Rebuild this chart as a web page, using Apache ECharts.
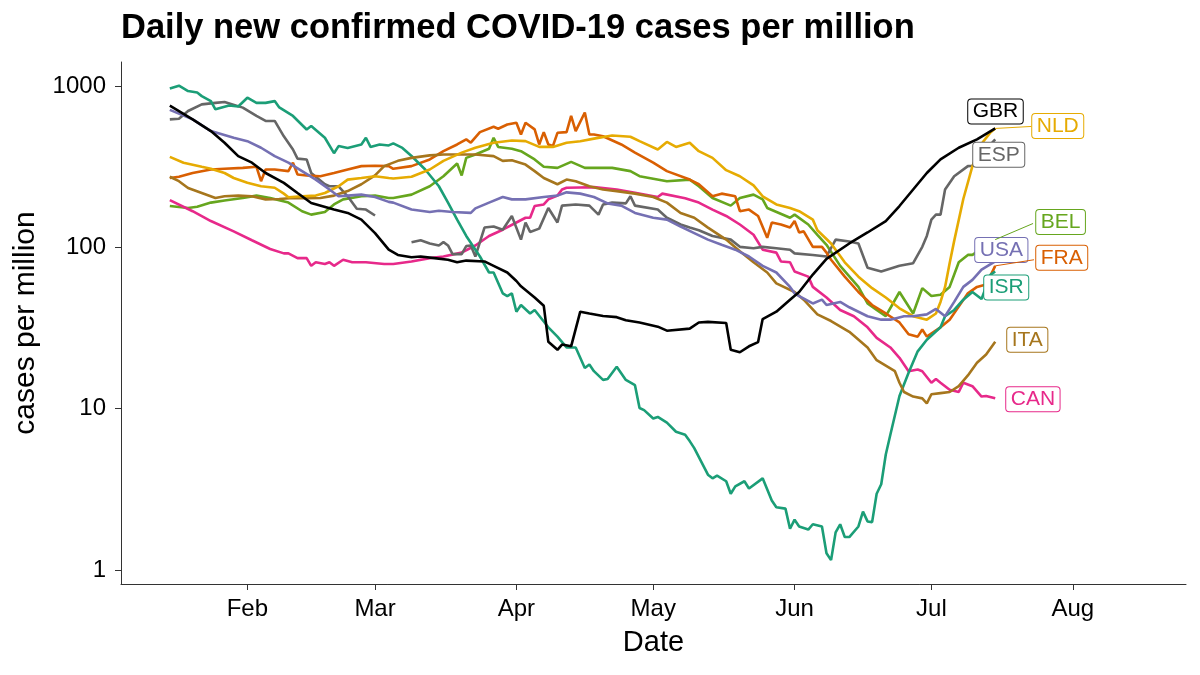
<!DOCTYPE html>
<html><head><meta charset="utf-8">
<script src="https://cdn.jsdelivr.net/npm/echarts@6/dist/echarts.min.js"></script>
<style>html,body{margin:0;padding:0;background:#fff}#c{width:1200px;height:675px}</style>
</head><body><div id="c"></div>
<script>
const YEAR = '2021';
const MONTH_TICKS = ['02-01','03-01','04-01','05-01','06-01','07-01','08-01'];
const MONTH_LABELS = ['Feb','Mar','Apr','May','Jun','Jul','Aug'];
const Y_TICKS = [1, 10, 100, 1000];

const BEL = [['01-15',181],['01-19',176],['01-21',179],['01-24',190],['01-27',196],['01-31',203],['02-03',210],['02-06',203],['02-10',190],['02-13',168],['02-15',160],['02-18',166],['02-20',185],['02-22',199],['02-26',208],['03-01',210],['03-04',203],['03-05',203],['03-09',213],['03-13',240],['03-16',277],['03-19',332],['03-20',280],['03-21',360],['03-23',378],['03-26',410],['03-27',480],['03-28',421],['03-31',410],['04-02',396],['04-05',352],['04-07',317],['04-10',312],['04-13',340],['04-16',312],['04-20',312],['04-22',312],['04-26',298],['04-28',277],['05-04',258],['05-09',264],['05-11',240],['05-14',203],['05-18',182],['05-20',203],['05-23',213],['05-25',199],['05-26',176],['05-31',153],['06-01',160],['06-04',139],['06-06',120],['06-08',104],['06-11',77],['06-15',57],['06-17',45],['06-19',41],['06-21',37.5],['06-24',53],['06-27',39],['06-29',56],['07-01',50],['07-03',51],['07-05',57],['07-07',81],['07-09',90],['07-10',90],['07-15',112]];
const CAN = [['01-15',197],['01-20',168],['01-24',146],['01-29',126],['02-02',111],['02-06',98],['02-09',92],['02-10',92],['02-12',86],['02-14',86],['02-15',77],['02-16',81],['02-18',79],['02-19',81],['02-20',77],['02-22',84],['02-24',81],['02-27',81],['03-03',79],['03-05',79],['03-09',82],['03-13',86],['03-16',88],['03-20',93],['03-23',103],['03-26',118],['03-29',129],['04-01',143],['04-03',153],['04-04',153],['04-05',181],['04-07',185],['04-08',199],['04-10',210],['04-11',229],['04-12',235],['04-15',236],['04-18',237],['04-23',229],['04-27',219],['05-02',206],['05-03',216],['05-08',202],['05-11',190],['05-14',172],['05-17',157],['05-20',139],['05-23',120],['05-25',97],['05-28',93],['05-29',82],['05-31',81],['06-01',71],['06-04',66],['06-05',57],['06-08',49],['06-11',41],['06-14',37.5],['06-17',32],['06-19',27.5],['06-22',24],['06-24',20.7],['06-26',17.1],['06-28',17.5],['06-29',17.1],['07-01',14.5],['07-02',15.3],['07-03',14.5],['07-05',13.1],['07-07',12.7],['07-08',14.5],['07-10',13.8],['07-12',11.9],['07-13',12.0],['07-15',11.6]];
const ESP = [['01-15',624],['01-17',630],['01-19',703],['01-22',773],['01-25',790],['01-27',800],['01-31',738],['02-03',655],['02-05',610],['02-07',610],['02-09',490],['02-11',406],['02-12',356],['02-14',352],['02-15',290],['02-18',247],['02-19',240],['02-21',240],['02-23',208],['02-25',174],['02-27',172],['03-01',158],['03-05',null],['03-09',108],['03-11',111],['03-13',106],['03-15',103],['03-16',108],['03-17',103],['03-18',91],['03-20',91],['03-21',102],['03-22',103],['03-23',88],['03-25',133],['03-27',135],['03-29',129],['03-31',157],['04-02',112],['04-03',143],['04-04',125],['04-06',131],['04-08',176],['04-10',143],['04-11',182],['04-14',185],['04-17',182],['04-19',160],['04-20',185],['04-22',190],['04-25',188],['04-26',208],['04-27',182],['05-02',172],['05-04',153],['05-07',139],['05-09',133],['05-11',128],['05-14',118],['05-18',112],['05-20',101],['05-23',99],['05-25',101],['05-28',99],['05-31',97],['06-01',92],['06-05',90],['06-08',88],['06-10',112],['06-13',109],['06-15',106],['06-17',75],['06-20',71],['06-24',77],['06-27',80],['06-29',101],['06-30',118],['07-01',149],['07-02',160],['07-03',160],['07-04',229],['07-06',277],['07-09',320],['07-10',322],['07-12',380],['07-15',469]];
const FRA = [['01-15',270],['01-17',275],['01-20',290],['01-24',305],['01-27',308],['01-31',312],['02-03',317],['02-04',258],['02-05',305],['02-07',305],['02-10',298],['02-11',336],['02-12',284],['02-14',280],['02-17',277],['02-20',290],['02-23',305],['02-26',320],['03-01',322],['03-04',320],['03-05',308],['03-09',320],['03-13',352],['03-16',396],['03-19',436],['03-21',469],['03-22',447],['03-24',520],['03-27',562],['03-28',546],['03-30',580],['04-01',595],['04-02',503],['04-03',595],['04-05',541],['04-06',436],['04-07',520],['04-08',436],['04-09',426],['04-10',515],['04-12',520],['04-13',655],['04-14',528],['04-16',688],['04-17',503],['04-18',503],['04-20',490],['04-24',436],['04-27',388],['05-01',336],['05-04',298],['05-09',264],['05-11',247],['05-14',208],['05-16',216],['05-19',208],['05-20',168],['05-22',172],['05-24',157],['05-26',115],['05-27',143],['05-29',139],['05-31',133],['06-01',146],['06-02',124],['06-03',126],['06-05',101],['06-07',101],['06-08',93],['06-09',84],['06-12',66],['06-15',53],['06-18',44],['06-21',39],['06-24',34.3],['06-26',29],['06-28',28],['06-29',31],['06-30',28],['07-03',32],['07-05',35.7],['07-07',43],['07-09',52],['07-11',57],['07-13',59],['07-15',77]];
const GBR = [['01-15',760],['01-20',624],['01-24',528],['01-27',447],['01-30',369],['02-02',336],['02-05',290],['02-09',252],['02-12',218],['02-15',189],['02-20',172],['02-23',164],['02-26',149],['03-01',123],['03-04',97],['03-06',90],['03-09',87],['03-11',88],['03-14',86],['03-17',84],['03-19',81],['03-21',83],['03-25',82],['03-27',77],['03-30',70],['04-01',62],['04-02',57.5],['04-05',49],['04-07',43.5],['04-08',26],['04-10',23.2],['04-11',25],['04-13',24.4],['04-15',40],['04-17',39],['04-20',37.6],['04-23',37],['04-25',35.4],['04-28',34.3],['05-02',32.3],['05-04',30.5],['05-09',31.4],['05-11',34.3],['05-13',34.6],['05-17',34],['05-18',23.2],['05-20',22.4],['05-22',24.4],['05-24',25.9],['05-25',36],['05-28',40],['05-31',47.5],['06-02',53],['06-05',68],['06-08',85],['06-13',106],['06-17',124],['06-21',146],['06-24',181],['06-27',229],['06-30',290],['07-03',352],['07-07',416],['07-11',469],['07-15',548]];
const ISR = [['01-15',970],['01-17',1010],['01-19',935],['01-21',915],['01-22',870],['01-24',810],['01-25',720],['01-28',760],['01-30',750],['02-01',850],['02-03',790],['02-05',790],['02-07',810],['02-08',740],['02-11',655],['02-14',540],['02-15',567],['02-18',480],['02-20',385],['02-21',426],['02-23',415],['02-26',436],['02-27',480],['02-28',421],['03-02',436],['03-04',430],['03-05',443],['03-07',415],['03-09',370],['03-12',305],['03-15',240],['03-17',190],['03-19',149],['03-21',118],['03-24',88],['03-26',70],['03-27',70],['03-29',52],['03-30',50],['03-31',52],['04-01',40],['04-02',44],['04-04',39],['04-05',41],['04-08',32],['04-10',28],['04-12',24],['04-14',24],['04-16',17.9],['04-17',18.8],['04-18',17.1],['04-20',15.1],['04-21',15.3],['04-23',18.2],['04-25',15.1],['04-27',14.0],['04-28',10.1],['04-29',9.8],['05-01',8.7],['05-02',8.9],['05-04',8.2],['05-06',7.2],['05-08',6.9],['05-09',6.3],['05-10',5.7],['05-13',3.9],['05-14',3.7],['05-15',3.85],['05-17',3.55],['05-18',2.97],['05-19',3.3],['05-21',3.55],['05-22',3.2],['05-25',3.7],['05-27',2.7],['05-28',2.45],['05-30',2.4],['05-31',1.8],['06-01',2.05],['06-02',1.86],['06-04',1.78],['06-05',1.92],['06-07',1.86],['06-08',1.27],['06-09',1.15],['06-10',1.71],['06-11',1.92],['06-12',1.6],['06-13',1.6],['06-15',1.86],['06-16',2.3],['06-17',2.0],['06-18',1.98],['06-19',2.97],['06-20',3.4],['06-21',5.2],['06-22',6.9],['06-24',12],['06-26',16.7],['06-28',22.7],['06-30',26.8],['07-03',32],['07-04',37.5],['07-06',41],['07-08',47.5],['07-10',53],['07-12',48],['07-14',68],['07-15',71]];
const ITA = [['01-15',275],['01-17',258],['01-19',234],['01-22',218],['01-25',203],['01-27',208],['01-30',210],['02-02',208],['02-05',199],['02-08',200],['02-11',203],['02-14',202],['02-17',203],['02-20',210],['02-23',224],['02-26',247],['03-01',280],['03-03',320],['03-06',345],['03-09',360],['03-13',373],['03-16',378],['03-20',378],['03-23',378],['03-27',369],['03-29',345],['03-31',348],['04-03',327],['04-05',298],['04-07',270],['04-10',247],['04-12',264],['04-14',258],['04-17',240],['04-20',229],['04-23',224],['04-27',216],['05-01',206],['05-04',190],['05-07',164],['05-10',153],['05-13',133],['05-17',112],['05-20',95],['05-23',81],['05-26',70],['05-28',60],['06-01',53],['06-03',47.5],['06-06',38.5],['06-09',35],['06-13',30],['06-17',24],['06-19',20],['06-23',17.1],['06-24',14.5],['06-25',12.7],['06-27',11.9],['06-29',11.6],['06-30',10.8],['07-01',12.3],['07-03',12.5],['07-05',12.7],['07-07',13.8],['07-09',16.1],['07-11',19.3],['07-13',21.7],['07-15',26]];
const NLD = [['01-15',365],['01-18',336],['01-22',317],['01-24',308],['01-27',290],['01-29',270],['02-01',252],['02-04',240],['02-07',235],['02-09',216],['02-10',205],['02-13',208],['02-16',210],['02-18',218],['02-21',240],['02-23',264],['02-26',270],['03-01',277],['03-04',270],['03-05',268],['03-09',275],['03-13',305],['03-16',345],['03-20',388],['03-23',416],['03-27',447],['03-31',461],['04-03',457],['04-06',421],['04-09',421],['04-12',447],['04-15',457],['04-18',474],['04-22',496],['04-26',487],['04-28',457],['05-02',406],['05-04',452],['05-06',421],['05-09',447],['05-11',396],['05-14',360],['05-17',302],['05-20',277],['05-23',243],['05-25',208],['05-28',185],['05-31',176],['06-02',168],['06-05',149],['06-06',128],['06-09',106],['06-12',81],['06-15',66],['06-18',56],['06-21',49],['06-24',42],['06-27',37.5],['06-30',35.7],['07-02',39],['07-03',46],['07-04',57],['07-05',80],['07-06',110],['07-08',200],['07-10',320],['07-12',440],['07-14',520],['07-15',548]];
const USA = [['01-15',715],['01-20',624],['01-24',528],['01-29',480],['02-01',457],['02-04',416],['02-07',369],['02-10',336],['02-13',298],['02-16',264],['02-19',229],['02-21',208],['02-23',210],['02-26',213],['03-01',206],['03-04',192],['03-05',190],['03-09',172],['03-13',166],['03-15',169],['03-18',166],['03-22',164],['03-23',175],['03-26',190],['03-29',206],['03-31',199],['04-03',199],['04-07',206],['04-10',210],['04-12',220],['04-15',216],['04-18',206],['04-21',188],['04-24',182],['04-27',164],['05-01',153],['05-04',149],['05-07',135],['05-10',123],['05-13',112],['05-16',104],['05-19',97],['05-22',88],['05-25',77],['05-28',70],['05-31',57],['06-01',52],['06-02',50],['06-05',45],['06-07',47.5],['06-08',44],['06-11',46],['06-13',42.6],['06-17',37.5],['06-20',35.7],['06-22',35.7],['06-25',37.5],['06-27',37.5],['06-30',38.5],['07-02',41.6],['07-04',37.5],['07-06',46],['07-08',57],['07-10',63],['07-12',73],['07-15',82]];

const SERIES_DATA = {BEL, CAN, ESP, FRA, ISR, ITA, NLD, USA, GBR};

// styling (kept apart from the data)
const COLORS = {BEL:'#66A61E', CAN:'#E7298A', ESP:'#666666', FRA:'#D95F02', ISR:'#1B9E77', ITA:'#A6761D', NLD:'#E6AB02', USA:'#7570B3', GBR:'#000000'};
const LABEL_OFFSETS = {GBR:[-27,-17], NLD:[37,-2.5], ESP:[-22,15.5], BEL:[41,-17.5], USA:[-20,-11.5], FRA:[41,-8], ISR:[-11,16], ITA:[12,-2], CAN:[11,1]};
const LEADER_TARGETS = {NLD:['07-22 22:00',564], BEL:['07-23 07:00',141], FRA:['07-23 12:00',84]};

const FONT = "'Liberation Sans', Arial, Helvetica, sans-serif";
const t = s => +echarts.time.parse(YEAR + '-' + s);
const tickTimes = MONTH_TICKS.map(t);

const series = Object.keys(SERIES_DATA).map(name => {
  const arr = SERIES_DATA[name];
  const col = COLORS[name];
  const last = arr[arr.length - 1];
  const s = {
    name, type: 'line', showSymbol: false, symbol: 'none', smooth: false,
    connectNulls: false, clip: true,
    data: arr.map(p => [t(p[0]), p[1] === null ? '-' : p[1]]),
    lineStyle: {color: col, width: 2.6},
    itemStyle: {color: col},
    emphasis: {disabled: true},
    endLabel: {
      show: true, formatter: name, color: col, fontSize: 21, fontFamily: FONT,
      backgroundColor: '#fff', borderColor: col, borderWidth: 1, borderRadius: 3,
      padding: [2, 4.5, 1, 4.5], distance: 0, offset: LABEL_OFFSETS[name],
      align: 'left', verticalAlign: 'middle'
    }
  };
  if (LEADER_TARGETS[name]) {
    const tg = LEADER_TARGETS[name];
    s.markLine = {
      silent: true, symbol: ['none', 'none'], animation: false,
      label: {show: false}, emphasis: {disabled: true},
      lineStyle: {color: col, width: 1, type: 'solid'},
      data: [[{coord: [t(last[0]), last[1]]}, {coord: [t(tg[0]), tg[1]]}]]
    };
  }
  return s;
});

const chart = echarts.init(document.getElementById('c'), null, {renderer: 'canvas'});
chart.setOption({
  animation: false,
  backgroundColor: '#fff',
  textStyle: {fontFamily: FONT},
  title: {
    text: 'Daily new confirmed COVID-19 cases per million',
    left: 121, top: 11, padding: 0,
    textStyle: {fontSize: 34.5, fontWeight: 'bold', color: '#000', fontFamily: FONT}
  },
  grid: {left: 121, right: 14, top: 62, bottom: 91, containLabel: false},
  xAxis: {
    type: 'value', scale: true,
    min: t('01-04 07:00'), max: t('08-25 20:00'),
    name: 'Date', nameLocation: 'middle', nameGap: 44,
    nameTextStyle: {fontSize: 29, color: '#000', fontFamily: FONT},
    axisLine: {show: true, lineStyle: {color: '#333', width: 1}},
    axisTick: {show: true, length: 6, lineStyle: {color: '#333', width: 1}, customValues: tickTimes},
    axisLabel: {customValues: tickTimes, fontSize: 24, color: '#000', margin: 13, fontFamily: FONT,
      showMinLabel: true, showMaxLabel: true,
      formatter: v => { const i = tickTimes.indexOf(+v); return i >= 0 ? MONTH_LABELS[i] : ''; }},
    splitLine: {show: false}
  },
  yAxis: {
    type: 'log', logBase: 10, min: 0.818, max: 1416,
    name: 'cases per million', nameLocation: 'middle', nameGap: 80, nameMoveOverlap: false,
    nameTextStyle: {fontSize: 30, color: '#000', fontFamily: FONT},
    axisLine: {show: true, lineStyle: {color: '#333', width: 1}},
    axisTick: {show: true, length: 6, lineStyle: {color: '#333', width: 1}, customValues: Y_TICKS},
    axisLabel: {customValues: Y_TICKS, fontSize: 24, color: '#000', margin: 15, fontFamily: FONT,
      formatter: v => String(Math.round(v))},
    splitLine: {show: false}
  },
  series
});
</script></body></html>
